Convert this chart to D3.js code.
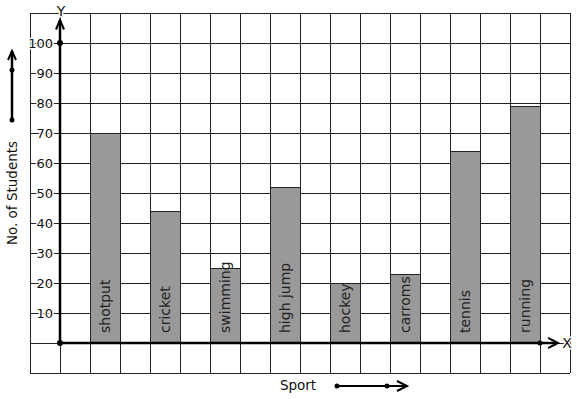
<!DOCTYPE html>
<html>
<head>
<meta charset="utf-8">
<script src="https://cdn.jsdelivr.net/npm/d3@7"></script>
<style>
  body { margin: 0; background: #fff; }
  svg { display: block; font-family: "DejaVu Sans", sans-serif; }
</style>
</head>
<body>
<svg id="chart" width="577" height="399"></svg>
<script>
// Sports chosen by students: bar graph drawn on squared paper
const sports = ['shotput', 'cricket', 'swimming', 'high jump', 'hockey', 'carroms', 'tennis', 'running'];
const students = [70, 44, 25, 52, 20, 23, 64, 79];
const yTicks = [10, 20, 30, 40, 50, 60, 70, 80, 90, 100];

const svg = d3.select('#chart');

// one grid square = one column on x, 10 students on y
const x = d3.scaleLinear().domain([-1, 17]).range([30, 570]);
const y = d3.scaleLinear().domain([-10, 110]).range([373, 13]);

// grid paper
const grid = svg.append('g').attr('stroke', '#222').attr('stroke-width', 1);
d3.range(-1, 18).forEach(c => {
  grid.append('line')
    .attr('x1', x(c) + 0.5).attr('x2', x(c) + 0.5)
    .attr('y1', y(110)).attr('y2', y(-10));
});
d3.range(-10, 111, 10).forEach(v => {
  grid.append('line')
    .attr('x1', x(-1)).attr('x2', x(17))
    .attr('y1', y(v) + 0.5).attr('y2', y(v) + 0.5);
});

// bars
const bars = svg.append('g');
sports.forEach((s, i) => {
  const x0 = x(1 + 2 * i), x1 = x(2 + 2 * i);
  bars.append('rect')
    .attr('x', x0 + 0.5).attr('y', y(students[i]) + 0.5)
    .attr('width', x1 - x0).attr('height', y(0) - y(students[i]))
    .attr('fill', '#999999').attr('stroke', '#222').attr('stroke-width', 1);
  bars.append('text')
    .attr('transform', `translate(${(x0 + x1) / 2 + 5},${y(0) - 10}) rotate(-90)`)
    .attr('font-size', 14).attr('fill', '#222')
    .text(s);
});

// tick labels with white background over the grid lines
const labels = svg.append('g')
  .attr('font-size', 13).attr('fill', '#111')
  .attr('stroke', '#fff').attr('stroke-width', 3).attr('paint-order', 'stroke');
yTicks.forEach(v => {
  labels.append('text')
    .attr('x', 53).attr('y', y(v)).attr('dy', '0.35em')
    .attr('text-anchor', 'end')
    .text(v);
});

// axes
const axes = svg.append('g').attr('stroke', '#000').attr('fill', 'none')
  .attr('stroke-width', 2.5);
axes.append('line').attr('x1', x(0)).attr('y1', y(0)).attr('x2', x(16.55)).attr('y2', y(0));
axes.append('line').attr('x1', x(0)).attr('y1', y(0)).attr('x2', x(0)).attr('y2', y(107.7));
axes.append('path').attr('stroke-width', 2)
  .attr('d', `M${x(16.27)},${y(-1.7)} L${x(16.6)},${y(0)} L${x(16.27)},${y(1.7)}`);
axes.append('path').attr('stroke-width', 2)
  .attr('d', `M${x(0) - 4},${y(104.5)} L${x(0)},${y(107.7)} L${x(0) + 4},${y(104.5)}`);
svg.append('circle').attr('cx', x(0)).attr('cy', y(0)).attr('r', 3);
svg.append('circle').attr('cx', x(0)).attr('cy', y(100)).attr('r', 3);
svg.append('circle').attr('cx', x(16)).attr('cy', y(0)).attr('r', 2.5);

labels.append('text').attr('x', 567).attr('y', y(0)).attr('dy', '0.35em')
  .attr('text-anchor', 'middle').attr('font-size', 14).text('X');
labels.append('text').attr('x', 61).attr('y', 11).attr('dy', '0.35em')
  .attr('text-anchor', 'middle').attr('font-size', 14).text('Y');

// axis titles with their little direction arrows
svg.append('text')
  .attr('transform', 'translate(17,193) rotate(-90)')
  .attr('text-anchor', 'middle').attr('font-size', 13.5).attr('fill', '#111')
  .text('No. of Students');
const ya = svg.append('g').attr('stroke', '#000').attr('fill', 'none').attr('stroke-width', 2.5);
ya.append('line').attr('x1', 12).attr('y1', 120).attr('x2', 12).attr('y2', 51);
ya.append('path').attr('stroke-width', 2).attr('d', 'M8,60 L12,51 L16,60');
svg.append('circle').attr('cx', 12).attr('cy', 120).attr('r', 2.5);
svg.append('circle').attr('cx', 12).attr('cy', 70).attr('r', 2.5);

svg.append('text')
  .attr('x', 298).attr('y', 385).attr('dy', '0.35em')
  .attr('text-anchor', 'middle').attr('font-size', 13.5).attr('fill', '#111')
  .text('Sport');
const xa = svg.append('g').attr('stroke', '#000').attr('fill', 'none').attr('stroke-width', 2);
xa.append('line').attr('x1', 337).attr('y1', 386).attr('x2', 407).attr('y2', 386);
xa.append('path').attr('d', 'M397,381 L407,386 L397,391');
svg.append('circle').attr('cx', 337).attr('cy', 386).attr('r', 2.5);
svg.append('circle').attr('cx', 387).attr('cy', 386).attr('r', 2.5);
</script>
</body>
</html>
